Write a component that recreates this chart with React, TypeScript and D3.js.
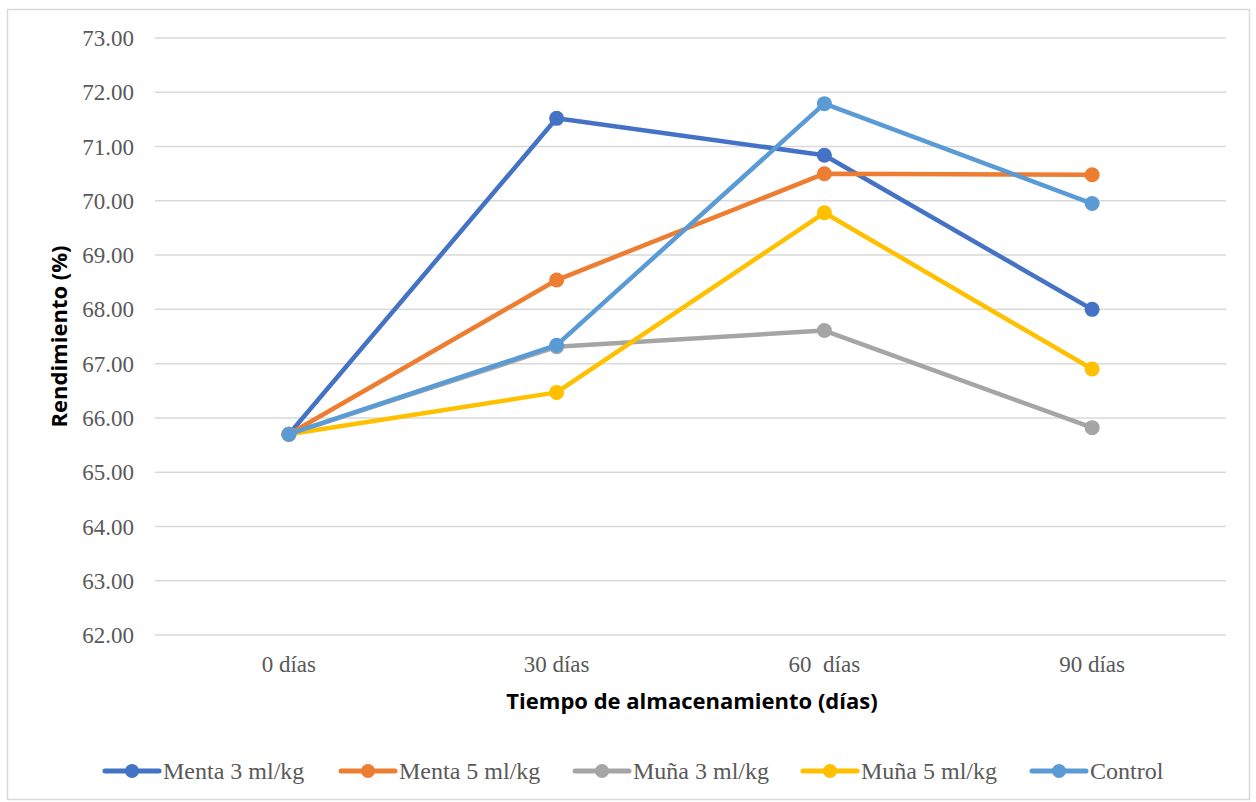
import React from "react";
import * as d3 from "d3";

const categories = ["0 días", "30 días", "60  días", "90 días"];
const menta3 = [65.7, 71.52, 70.84, 68.0];
const menta5 = [65.7, 68.54, 70.5, 70.48];
const muna3 = [65.7, 67.31, 67.61, 65.82];
const muna5 = [65.7, 66.47, 69.78, 66.9];
const control = [65.7, 67.34, 71.79, 69.95];
const seriesNames = ["Menta 3 ml/kg", "Menta 5 ml/kg", "Muña 3 ml/kg", "Muña 5 ml/kg", "Control"];
const seriesColors = ["#4472C4", "#ED7D31", "#A5A5A5", "#FFC000", "#5B9BD5"];
const yTicks = [62, 63, 64, 65, 66, 67, 68, 69, 70, 71, 72, 73];
const legendX = [103, 339, 573, 801, 1030];

export default function App() {
  const W = 1256, H = 802;
  const left = 155, right = 1226, top = 38, bottom = 635;
  const x = d3.scaleBand<string>().domain(categories).range([left, right]);
  const y = d3.scaleLinear().domain([62, 73]).range([bottom, top]);
  const allSeries = [menta3, menta5, muna3, muna5, control];
  const line = d3
    .line<number>()
    .x((_, i) => (x(categories[i]) as number) + x.bandwidth() / 2)
    .y((d) => y(d));
  const serif = { fontFamily: "\"Liberation Serif\", \"DejaVu Serif\", serif" };
  const sans = { fontFamily: "\"Open Sans\", \"Liberation Sans\", sans-serif" };
  return (
    <svg
      width={W}
      height={H}
      style={{ position: "absolute", left: 0, top: 0, background: "#fff" }}
    >
      <rect x={7.5} y={9.5} width={1242} height={790} fill="#fff" stroke="#D9D9D9" strokeWidth={1.5} />
      {yTicks.map((t) => (
        <g key={t}>
          <line x1={left} x2={right} y1={y(t)} y2={y(t)} stroke="#D9D9D9" strokeWidth={1.5} />
          <text x={134} y={y(t)} dy="0.35em" textAnchor="end" style={serif} fontSize={23} fill="#595959">
            {t.toFixed(2)}
          </text>
        </g>
      ))}
      {categories.map((c) => (
        <text
          key={c}
          x={(x(c) as number) + x.bandwidth() / 2}
          y={672}
          textAnchor="middle"
          fontSize={23}
          fill="#595959"
          style={{ ...serif, whiteSpace: "pre" }}
        >
          {c}
        </text>
      ))}
      <text x={692} y={709} textAnchor="middle" style={sans} fontWeight="bold" fontSize={22} fill="#000">
        Tiempo de almacenamiento (días)
      </text>
      <text
        transform={`translate(67, ${(top + bottom) / 2}) rotate(-90)`}
        textAnchor="middle"
        style={sans}
        fontWeight="bold"
        fontSize={22}
        fill="#000"
      >
        Rendimiento (%)
      </text>
      {allSeries.map((s, si) => (
        <g key={si}>
          <path d={line(s) || ""} fill="none" stroke={seriesColors[si]} strokeWidth={4.5} strokeLinejoin="round" strokeLinecap="round" />
          {s.map((v, i) => (
            <circle
              key={i}
              cx={(x(categories[i]) as number) + x.bandwidth() / 2}
              cy={y(v)}
              r={7.5}
              fill={seriesColors[si]}
            />
          ))}
        </g>
      ))}
      {seriesNames.map((n, i) => (
        <g key={n}>
          <line x1={legendX[i] + 2} x2={legendX[i] + 56} y1={771} y2={771} stroke={seriesColors[i]} strokeWidth={5} strokeLinecap="round" />
          <circle cx={legendX[i] + 29} cy={771} r={7} fill={seriesColors[i]} />
          <text x={legendX[i] + 60} y={771} dy="0.35em" style={serif} fontSize={24} fill="#595959">
            {n}
          </text>
        </g>
      ))}
    </svg>
  );
}
